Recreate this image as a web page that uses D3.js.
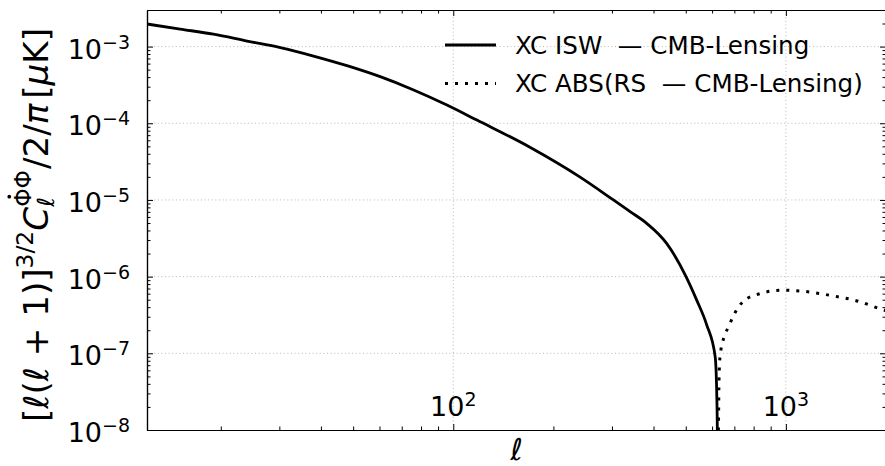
<!DOCTYPE html>
<html><head><meta charset="utf-8">
<script src="https://cdn.jsdelivr.net/npm/d3@7"></script>
<style>body{margin:0;background:#fff} svg{display:block} text{font-family:"DejaVu Sans",sans-serif}</style>
</head><body><svg id="chart" width="885" height="466"></svg>
<script>
// ---- data ----
const iswEll = [12,15.1,19,24,30.2,38,47.9,60.3,76,95.7,117.8,170,240,303,340,381.5,438,501,539,578,613,620,622,623];
const iswVal = [1.97e-3,1.69e-3,1.45e-3,1.18e-3,9.7e-4,7.53e-4,5.64e-4,4.05e-4,2.72e-4,1.73e-4,1.10e-4,4.87e-5,2.0e-5,1.0e-5,7.05e-6,4.96e-6,2.72e-6,1.0e-6,4.97e-7,2.35e-7,9e-8,2.7e-8,1.1e-8,4e-9];
const rsEll = [624,627,629,631,634,652,672,696,746,837,972,1104,1359,1672,1918,2000];
const rsVal = [4e-9,1.1e-8,3.6e-8,6.6e-8,9e-8,1.64e-7,2.2e-7,3.1e-7,4.8e-7,6.0e-7,6.65e-7,6.5e-7,5.7e-7,4.7e-7,3.8e-7,3.6e-7];
const xMajor = [100, 1000];
const xMajorExp = ["2", "3"];
const yMajor = [1e-8, 1e-7, 1e-6, 1e-5, 1e-4, 1e-3];
const yMajorExp = ["\u22128", "\u22127", "\u22126", "\u22125", "\u22124", "\u22123"];
const legendLabels = ["XC ISW  \u2014 CMB-Lensing", "XC ABS(RS  \u2014 CMB-Lensing)"];

// ---- layout ----
const L = 147, T = 10, R = 886, B = 430;
const svg = d3.select("#chart");
const x = d3.scaleLog().domain([12, 2000]).range([L, R]);
const y = d3.scaleLog().domain([1e-8, 3e-3]).range([B, T]);

const minorOf = (sc) => {
  const [a, b] = sc.domain();
  const out = [];
  for (let e = Math.floor(Math.log10(a)); e <= Math.ceil(Math.log10(b)); e++)
    for (let m = 2; m <= 9; m++) { const v = m * Math.pow(10, e); if (v > a * 1.001 && v < b * 0.999) out.push(v); }
  return out;
};
const xMinor = minorOf(x), yMinor = minorOf(y);

// grid
const grid = svg.append("g").attr("stroke", "#b0b0b0").attr("stroke-width", 0.9).attr("stroke-dasharray", "1,2.6");
grid.selectAll(".gx").data(xMajor).join("line").attr("x1", d => x(d)).attr("x2", d => x(d)).attr("y1", T).attr("y2", B);
grid.selectAll(".gy").data(yMajor.filter(v => v > 1e-8)).join("line").attr("y1", d => y(d)).attr("y2", d => y(d)).attr("x1", L).attr("x2", R);

// axes with inward ticks
function addAxis(gen, tf, vals, size) {
  const g = svg.append("g").attr("transform", tf)
    .call(gen.tickValues(vals).tickSizeInner(-size).tickSizeOuter(0).tickFormat(() => ""));
  g.selectAll("line").attr("stroke", "#000").attr("stroke-width", 1);
  g.select(".domain").attr("stroke", "#000").attr("stroke-width", 1.2);
  return g;
}
addAxis(d3.axisBottom(x), `translate(0,${B})`, xMajor, 6);
addAxis(d3.axisBottom(x), `translate(0,${B})`, xMinor, 3.5);
addAxis(d3.axisTop(x), `translate(0,${T})`, xMajor, 6);
addAxis(d3.axisTop(x), `translate(0,${T})`, xMinor, 3.5);
addAxis(d3.axisLeft(y), `translate(${L},0)`, yMajor, 6);
addAxis(d3.axisLeft(y), `translate(${L},0)`, yMinor, 3.5);
addAxis(d3.axisRight(y), `translate(${R},0)`, yMajor, 6);
addAxis(d3.axisRight(y), `translate(${R},0)`, yMinor, 3.5);

// tick labels
const yl = svg.append("g");
yMajor.forEach((v, i) => {
  const t = yl.append("text").attr("x", 130).attr("y", y(v) + 12).attr("text-anchor", "end").attr("font-size", 27).attr("fill", "#000");
  t.append("tspan").text("10");
  t.append("tspan").attr("dy", -10).attr("font-size", 19).text(yMajorExp[i]);
});
xMajor.forEach((v, i) => {
  const t = svg.append("text").attr("x", x(v)).attr("y", 416).attr("text-anchor", "middle").attr("font-size", 27).attr("fill", "#000");
  t.append("tspan").text("10");
  t.append("tspan").attr("dy", -10).attr("font-size", 19).text(xMajorExp[i]);
});

// clip
svg.append("clipPath").attr("id", "clip").append("rect").attr("x", L).attr("y", T).attr("width", R - L).attr("height", B - T);

const line = d3.line().x(d => x(d[0])).y(d => y(d[1])).curve(d3.curveMonotoneX);
const isw = iswEll.map((e, i) => [e, iswVal[i]]);
const rs = rsEll.map((e, i) => [e, rsVal[i]]);
const plot = svg.append("g").attr("clip-path", "url(#clip)");
plot.append("path").attr("d", line(isw)).attr("fill", "none").attr("stroke", "#000").attr("stroke-width", 2.8);
plot.append("path").attr("d", line(rs)).attr("fill", "none").attr("stroke", "#000").attr("stroke-width", 3).attr("stroke-dasharray", "3,7");

// legend
const lg = svg.append("g");
legendLabels.forEach((lab, i) => {
  const yy = 45 + i * 38.5;
  lg.append("line").attr("x1", 445).attr("x2", 496).attr("y1", yy).attr("y2", yy)
    .attr("stroke", "#000").attr("stroke-width", i ? 3 : 2.8).attr("stroke-dasharray", i ? "3,7" : null);
  lg.append("text").attr("x", 515).attr("y", yy + 8.5).attr("font-size", 24.6).attr("fill", "#000")
    .style("white-space", "pre").attr("xml:space", "preserve").text(lab);
});

// x label
svg.append("text").attr("x", (L + R) / 2).attr("y", 460).attr("text-anchor", "middle")
  .attr("font-size", 30).attr("font-style", "italic").text("\u2113");

// y label built from pieces
const yg = svg.append("g");
const M = 35, S = 24;
let cx = 0;
function piece(txt, size, shift, italic) {
  const t = yg.append("text").attr("x", cx).attr("y", shift).attr("font-size", size)
    .attr("font-style", italic ? "italic" : "normal").style("white-space", "pre").text(txt);
  const w = t.node().getComputedTextLength();
  return { t, w, x0: cx };
}
function adv(p) { cx += p.w; }
adv(piece("[", M, 0));
adv(piece("\u2113", M, 0, true));
adv(piece("(", M, 0));
adv(piece("\u2113", M, 0, true));
adv(piece(" + 1)]", M, 0));
adv(piece("3/2", S, -15));
adv(piece("C", M, 0, true));
const sub = piece("\u2113", S, 6, true);
const sup = piece("\u03A6\u03A6", S, -17);
const phiW = sup.w / 2;
yg.append("circle").attr("cx", sup.x0 + phiW * 0.55).attr("cy", -17 - S * 0.8 - 3.5).attr("r", 1.9);
cx += Math.max(sub.w, sup.w) + 1;
adv(piece("/2/", M, 0));
adv(piece("\u03C0", M, 0, true));
cx += 5;
adv(piece("[", M, 0));
adv(piece("\u03BC", M, 0, true));
adv(piece("K]", M, 0));
const total = cx;
const s = 394 / total;
yg.attr("transform", `translate(48,${225 + total * s / 2}) rotate(-90) scale(${s})`);
</script></body></html>
